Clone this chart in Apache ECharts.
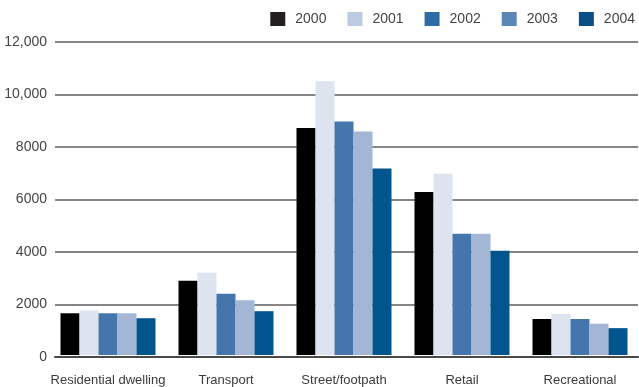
<!DOCTYPE html>
<html>
<head>
<meta charset="utf-8">
<script src="https://cdn.jsdelivr.net/npm/echarts@6/dist/echarts.min.js"></script>
<style>
  html, body { margin: 0; padding: 0; background: #ffffff; }
  #chart { width: 639px; height: 387px; }
</style>
</head>
<body>
<div id="chart"></div>
<script>
// Incidents by location type, 2000–2004
const categories = ['Residential dwelling', 'Transport', 'Street/footpath', 'Retail', 'Recreational'];
const years = ['2000', '2001', '2002', '2003', '2004'];
const values2000 = [1600, 2850, 8700, 6250, 1380];
const values2001 = [1710, 3150, 10500, 6950, 1570];
const values2002 = [1600, 2350, 8950, 4650, 1380];
const values2003 = [1600, 2100, 8570, 4650, 1200];
const values2004 = [1410, 1680, 7150, 4000, 1030];
const yTicks = [0, 2000, 4000, 6000, 8000, 10000, 12000];

const barColors = ['#000000', '#dde3ef', '#4476ad', '#a3b6d6', '#00558f'];
const legendColors = ['#231f20', '#bccbe1', '#2e6ca3', '#5b87b7', '#0a4f88'];
const seriesValues = [values2000, values2001, values2002, values2003, values2004];

const FONT = '"Liberation Sans", Arial, sans-serif';

const chart = echarts.init(document.getElementById('chart'), null, { renderer: 'canvas' });

const yMin = yTicks[0];
const yMax = yTicks[yTicks.length - 1];
const yStep = yTicks[1] - yTicks[0];

function fmtTick(v) {
  return v >= 10000 ? v.toLocaleString('en-US') : String(v);
}

chart.setOption({
  animation: false,
  backgroundColor: '#ffffff',
  legend: {
    top: 12,
    right: 4,
    padding: 0,
    itemWidth: 15,
    itemHeight: 14,
    itemGap: 21,
    icon: 'rect',
    textStyle: { fontFamily: FONT, fontSize: 14, color: '#444444', padding: [1, 0, 0, 5] },
    data: years.map((y, i) => ({ name: y, itemStyle: { color: legendColors[i] } }))
  },
  grid: [
    // gridline frame with the value labels
    { left: 55, right: 1, top: 42, bottom: 30, containLabel: false },
    // bar frame
    { left: 49, right: -4, top: 42, bottom: 30, containLabel: false }
  ],
  xAxis: [
    {
      gridIndex: 0, type: 'category', data: categories,
      axisLine: { show: true, lineStyle: { color: '#4a4a4a', width: 2 } },
      axisTick: { show: false }, axisLabel: { show: false }, splitLine: { show: false }
    },
    {
      gridIndex: 1, type: 'category', data: categories,
      axisLine: { show: false }, axisTick: { show: false },
      axisLabel: { interval: 0, fontFamily: FONT, fontSize: 13, color: '#3a3a3a', margin: 19, verticalAlign: 'top' }
    }
  ],
  yAxis: [
    {
      gridIndex: 0, type: 'value', min: yMin, max: yMax, interval: yStep,
      axisLine: { show: false }, axisTick: { show: false },
      axisLabel: { fontFamily: FONT, fontSize: 14, color: '#444444', margin: 8, formatter: fmtTick },
      splitLine: { show: true, lineStyle: { color: '#5e5e5e', width: 1.5 } }
    },
    {
      gridIndex: 1, type: 'value', min: yMin, max: yMax, interval: yStep,
      axisLine: { show: false }, axisTick: { show: false },
      axisLabel: { show: false }, splitLine: { show: false }
    }
  ],
  series: years.map((y, i) => ({
    name: y,
    type: 'bar',
    xAxisIndex: 1,
    yAxisIndex: 1,
    data: seriesValues[i],
    barWidth: 19,
    barGap: '0%',
    itemStyle: { color: barColors[i] },
    z: 3
  }))
});
</script>
</body>
</html>
